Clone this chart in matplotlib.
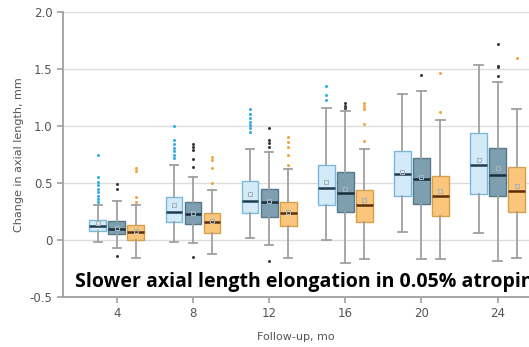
import matplotlib
matplotlib.use("Agg")
import matplotlib.pyplot as plt

# follow-up months
months = [4, 8, 12, 16, 20, 24]

# light blue group
light_q1 = [0.08, 0.155, 0.24, 0.31, 0.39, 0.40]
light_med = [0.125, 0.25, 0.34, 0.46, 0.58, 0.66]
light_q3 = [0.175, 0.38, 0.52, 0.66, 0.78, 0.94]
light_lo = [-0.02, -0.02, 0.02, 0.0, 0.07, 0.06]
light_hi = [0.31, 0.66, 0.80, 1.16, 1.28, 1.54]
light_mean = [0.15, 0.31, 0.40, 0.51, 0.60, 0.70]
light_fliers = [[0.33, 0.36, 0.39, 0.42, 0.45, 0.48, 0.51, 0.55, 0.75],
                [0.72, 0.75, 0.78, 0.81, 0.84, 0.88, 1.0],
                [0.95, 0.98, 1.01, 1.04, 1.07, 1.11, 1.15],
                [1.23, 1.27, 1.35],
                [],
                []]

# dark blue group
dark_q1 = [0.05, 0.14, 0.20, 0.25, 0.32, 0.39]
dark_med = [0.10, 0.23, 0.33, 0.41, 0.54, 0.57]
dark_q3 = [0.17, 0.33, 0.45, 0.60, 0.72, 0.81]
dark_lo = [-0.07, -0.03, -0.04, -0.20, -0.17, -0.18]
dark_hi = [0.34, 0.55, 0.77, 1.13, 1.31, 1.39]
dark_mean = [0.11, 0.24, 0.34, 0.45, 0.55, 0.63]
dark_fliers = [[0.45, 0.49, -0.14],
               [0.64, 0.71, 0.79, 0.82, 0.84, -0.15],
               [0.82, 0.85, 0.88, 0.98, -0.18],
               [1.16, 1.18, 1.20],
               [1.45],
               [1.44, 1.52, 1.53, 1.72]]

# orange group
orange_q1 = [0.0, 0.06, 0.12, 0.16, 0.21, 0.25]
orange_med = [0.07, 0.155, 0.24, 0.31, 0.39, 0.43]
orange_q3 = [0.13, 0.24, 0.33, 0.44, 0.56, 0.64]
orange_lo = [-0.16, -0.12, -0.16, -0.17, -0.17, -0.16]
orange_hi = [0.31, 0.44, 0.62, 0.80, 1.05, 1.15]
orange_mean = [0.08, 0.17, 0.25, 0.35, 0.43, 0.47]
orange_fliers = [[0.33, 0.38, 0.61, 0.63],
                 [0.50, 0.63, 0.70, 0.73],
                 [0.66, 0.75, 0.82, 0.86, 0.90],
                 [0.87, 1.02, 1.15, 1.18, 1.20],
                 [1.12, 1.47],
                 [1.60]]

yticks = [-0.5, 0, 0.5, 1.0, 1.5, 2.0]
ytick_labels = ["-0.5", "0", "0.5", "1.0", "1.5", "2.0"]

fig = plt.figure(figsize=(5.29, 3.47), dpi=100)
ax = fig.add_axes([0.119, 0.144, 0.881, 0.821])

def make_stats(q1, med, q3, lo, hi, mean, fliers):
    stats = []
    for i in range(len(months)):
        stats.append(dict(q1=q1[i], med=med[i], q3=q3[i], whislo=lo[i],
                          whishi=hi[i], mean=mean[i], fliers=fliers[i]))
    return stats

groups = [
    (make_stats(light_q1, light_med, light_q3, light_lo, light_hi, light_mean, light_fliers),
     -1, "#d3ebf8", "#7ab8dc", "#1e3d52", "#35aee0"),
    (make_stats(dark_q1, dark_med, dark_q3, dark_lo, dark_hi, dark_mean, dark_fliers),
     0, "#7d9fb0", "#55798a", "#1b2f3b", "#3a3a3a"),
    (make_stats(orange_q1, orange_med, orange_q3, orange_lo, orange_hi, orange_mean, orange_fliers),
     1, "#f9c67c", "#d9a04c", "#5a2e0a", "#f0a640"),
]

for stats, off, face, edge, medc, flc in groups:
    pos = [m + off for m in months]
    ax.bxp(stats, positions=pos, widths=0.88, patch_artist=True, showmeans=True,
           capwidths=0.45,
           boxprops=dict(facecolor=face, edgecolor=edge, linewidth=1.0),
           medianprops=dict(color=medc, linewidth=1.8),
           whiskerprops=dict(color="#a0a0a0", linewidth=1.3),
           capprops=dict(color="#a0a0a0", linewidth=1.3),
           meanprops=dict(marker="s", markersize=3.5, markerfacecolor="none",
                          markeredgecolor="#a8b4bc", markeredgewidth=0.8),
           flierprops=dict(marker="o", markersize=2.2, markerfacecolor=flc,
                           markeredgecolor="none"))

ax.set_xlim(1.17, 25.65)
ax.set_ylim(-0.5, 2.0)
ax.set_xticks(months)
ax.set_xticklabels([str(m) for m in months])
ax.set_yticks(yticks)
ax.set_yticklabels(ytick_labels)
ax.grid(axis="y", color="#dcdcdc", linewidth=1.0)
ax.set_axisbelow(True)
for s in ["top", "right"]:
    ax.spines[s].set_visible(False)
for s in ["left", "bottom"]:
    ax.spines[s].set_color("#a0a0a0")
    ax.spines[s].set_linewidth(1.3)
ax.tick_params(colors="#a0a0a0", labelcolor="#555555", labelsize=8.5, length=4, width=1.2)

ax.set_ylabel("Change in axial length, mm", fontsize=8, color="#555555", labelpad=4)
ax.set_xlabel("Follow-up, mo", fontsize=8, color="#555555", labelpad=8)

# overlay caption, runs off the right edge as in the source
fig.text(0.142, 0.173, "Slower axial length elongation in 0.05% atropine",
         fontsize=14, fontweight="bold", color="black", family="Open Sans",
         va="baseline", ha="left")

fig.savefig("out.png", dpi=100)
